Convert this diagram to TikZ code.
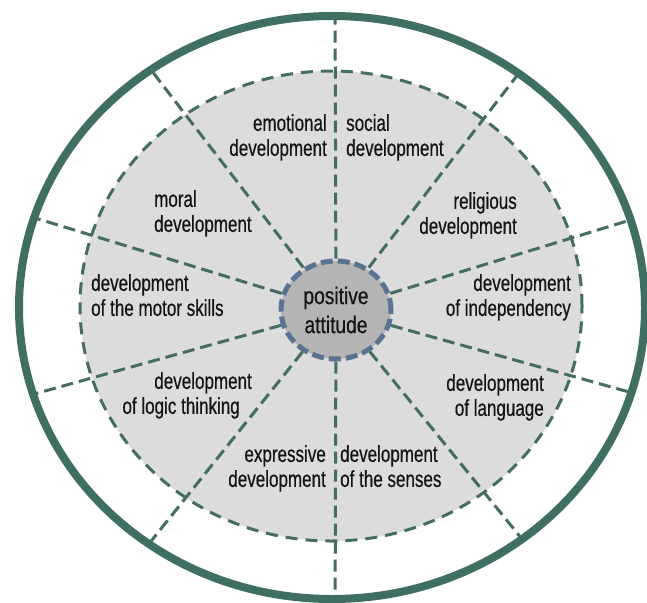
\documentclass[tikz,border=0pt]{standalone}
\usepackage{fontspec}
\usetikzlibrary{shapes.geometric}
\newfontfamily\lblfont{Liberation Sans}[FakeStretch=0.74,FakeBold=0.5]
\newfontfamily\ctrfont{Liberation Sans}[FakeStretch=0.80,FakeBold=0.5]
\definecolor{ringcol}{HTML}{3F6E62}
\definecolor{raycol}{HTML}{456C63}
\definecolor{innerfill}{HTML}{DCDCDC}
\definecolor{ctrfill}{HTML}{B4B4B4}
\definecolor{ctrborder}{HTML}{5A7393}
\definecolor{txtcol}{HTML}{141414}
\tikzset{
  ray/.style={draw=raycol, line width=3pt, dash pattern=on 12pt off 6pt},
  innerborder/.style={draw=raycol, line width=3pt, dash pattern=on 12pt off 8pt},
  outerring/.style={draw=ringcol, line width=8pt},
  lbl/.style={inner sep=0pt, text=txtcol, font=\lblfont\fontsize{23}{25}\selectfont},
  lblL/.style={lbl, anchor=north west, align=left},
  lblR/.style={lbl, anchor=north east, align=right},
  ctr/.style={ellipse, minimum width=110pt, minimum height=98pt, inner sep=0pt,
    fill=ctrfill, draw=ctrborder, line width=5pt, dash pattern=on 12pt off 5pt,
    text=txtcol, align=center, font=\ctrfont\fontsize{24}{29}\selectfont}
}
\begin{document}
\begin{tikzpicture}[x=1pt,y=-1pt]
\useasboundingbox (0,0) rectangle (647,602);
\fill[white] (0,0) rectangle (647,602);
% inner gray ellipse
\fill[innerfill] (331,306) ellipse [x radius=251pt, y radius=235pt];
% centre
\node[ctr] (c) at (336,310) {positive\\attitude};
% ray end points (beyond the outer ring, clipped)
\coordinate (e1) at (335,-20);
\coordinate (e2) at (570,7);
\coordinate (e3) at (722,192);
\coordinate (e4) at (722,418);
\coordinate (e5) at (578,608);
\coordinate (e6) at (335,640);
\coordinate (e7) at (96,610);
\coordinate (e8) at (-52,418);
\coordinate (e9) at (-50,192);
\coordinate (e10) at (101,5);
\begin{scope}
  \clip (332,307.5) ellipse [x radius=313pt, y radius=291.5pt];
  \foreach \i in {1,...,10} { \draw[ray] (c) -- (e\i); }
\end{scope}
\draw[innerborder] (331,306) ellipse [x radius=251pt, y radius=235pt];
\draw[outerring] (332,307.5) ellipse [x radius=313pt, y radius=291.5pt];
% labels
\node[lblR] (emo) at (327,114) {emotional\\development};
\node[lblL] (soc) at (346,114) {social\\development};
\node[lblL] (mor) at (154,190) {moral\\development};
\node[lblR] (rel) at (517,192) {religious\\development};
\node[lblL] (mot) at (91,274) {development\\of the motor skills};
\node[lblR] (ind) at (571,274) {development\\of independency};
\node[lblR] (log) at (252,372) {development\\of logic thinking\hspace*{12pt}};
\node[lblR] (lan) at (544,374) {development\\of language};
\node[lblR] (exp) at (326,445) {expressive\\development};
\node[lblL] (sen) at (340,445) {development\\of the senses};
\end{tikzpicture}
\end{document}
